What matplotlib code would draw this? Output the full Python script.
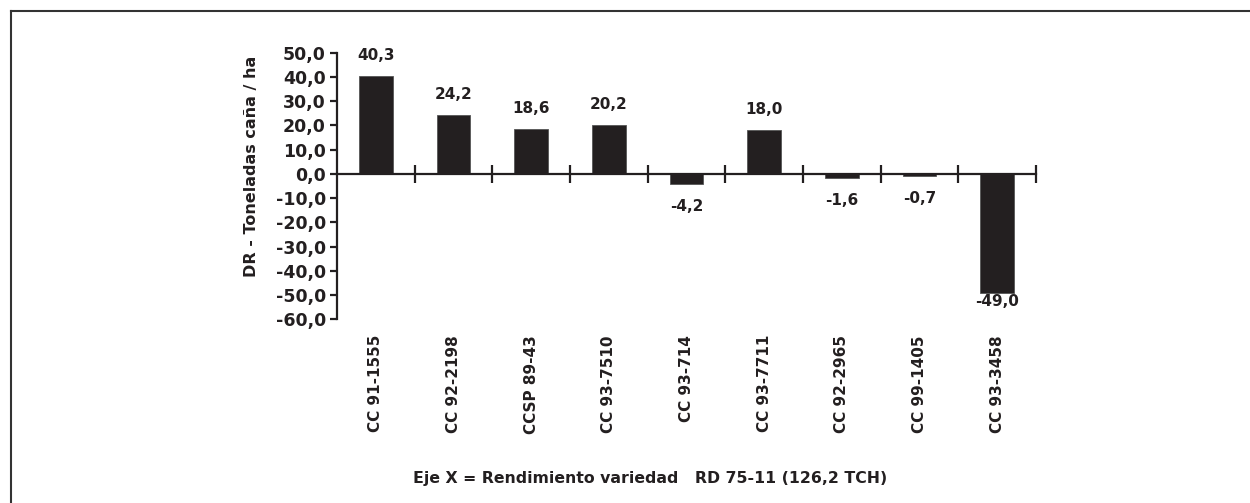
import matplotlib
matplotlib.use("Agg")
from matplotlib import pyplot as plt
from matplotlib.lines import Line2D

variedades = ["CC 91-1555", "CC 92-2198", "CCSP 89-43", "CC 93-7510", "CC 93-714",
              "CC 93-7711", "CC 92-2965", "CC 99-1405", "CC 93-3458"]
dr = [40.3, 24.2, 18.6, 20.2, -4.2, 18.0, -1.6, -0.7, -49.0]
yticks = [50, 40, 30, 20, 10, 0, -10, -20, -30, -40, -50, -60]

plt.rcParams['font.family'] = ['DejaVu Sans']
color_barra = '#231f20'

fig = plt.figure(figsize=(12.5, 5.03), dpi=100)
ax = fig.add_axes([0.2696, 0.3652, 0.5592, 0.53])

x = list(range(len(dr)))
ax.bar(x, dr, width=0.43, color=color_barra, edgecolor='#555555', linewidth=0.6, zorder=2)

ax.set_xlim(-0.5, len(dr) - 0.5)
ax.set_ylim(-60, 50)
ax.set_yticks(yticks)
ax.set_yticklabels([('%.1f' % v).replace('.', ',') for v in yticks],
                   fontsize=12.5, fontweight='bold', color='#231f20')

# eje x en el cero, ticks entre categorias
ax.spines['bottom'].set_position(('data', 0))
ax.spines['top'].set_visible(False)
ax.spines['right'].set_visible(False)
for s in ['left', 'bottom']:
    ax.spines[s].set_linewidth(1.6)
    ax.spines[s].set_color('#231f20')
ax.set_xticks([i + 0.5 for i in x])
ax.set_xticklabels([])
ax.tick_params(axis='x', direction='inout', length=13, width=1.6, color='#231f20')
ax.tick_params(axis='y', direction='out', length=5, width=1.6, color='#231f20', pad=3)

# etiquetas de valores
for xi, v in zip(x, dr):
    txt = ('%.1f' % v).replace('.', ',')
    if v >= 0:
        ax.annotate(txt, (xi, v), xytext=(0, 9.5), textcoords='offset points',
                    ha='center', va='bottom', fontsize=11, fontweight='bold', color='#231f20')
    else:
        off = -11 if abs(v) < 10 else -1
        ax.annotate(txt, (xi, v), xytext=(0, off), textcoords='offset points',
                    ha='center', va='top', fontsize=11, fontweight='bold', color='#231f20')

# nombres de variedades (rotados, bajo el eje)
for xi, nombre in zip(x, variedades):
    ax.text(xi, -66.5, nombre, rotation=90, ha='center', va='top',
            fontsize=11, fontweight='bold', color='#231f20', clip_on=False)

ax.set_ylabel('DR - Toneladas caña / ha', fontsize=11.5, fontweight='bold', color='#231f20')
ax.yaxis.set_label_coords(-0.1116, 0.575)

fig.text(0.52, 0.0497, 'Eje X = Rendimiento variedad   RD 75-11 (126,2 TCH)',
         ha='center', va='center', fontsize=11.3, fontweight='bold', color='#231f20')

# marco del grafico (solo visible arriba e izquierda)
fig.add_artist(Line2D([0.0085, 0.0085], [0, 1 - 11 / 503], color='#333333', linewidth=1.5,
                      transform=fig.transFigure))
fig.add_artist(Line2D([0.0085, 1], [1 - 11 / 503, 1 - 11 / 503], color='#333333', linewidth=1.5,
                      transform=fig.transFigure))

plt.savefig('out.png', dpi=100)
